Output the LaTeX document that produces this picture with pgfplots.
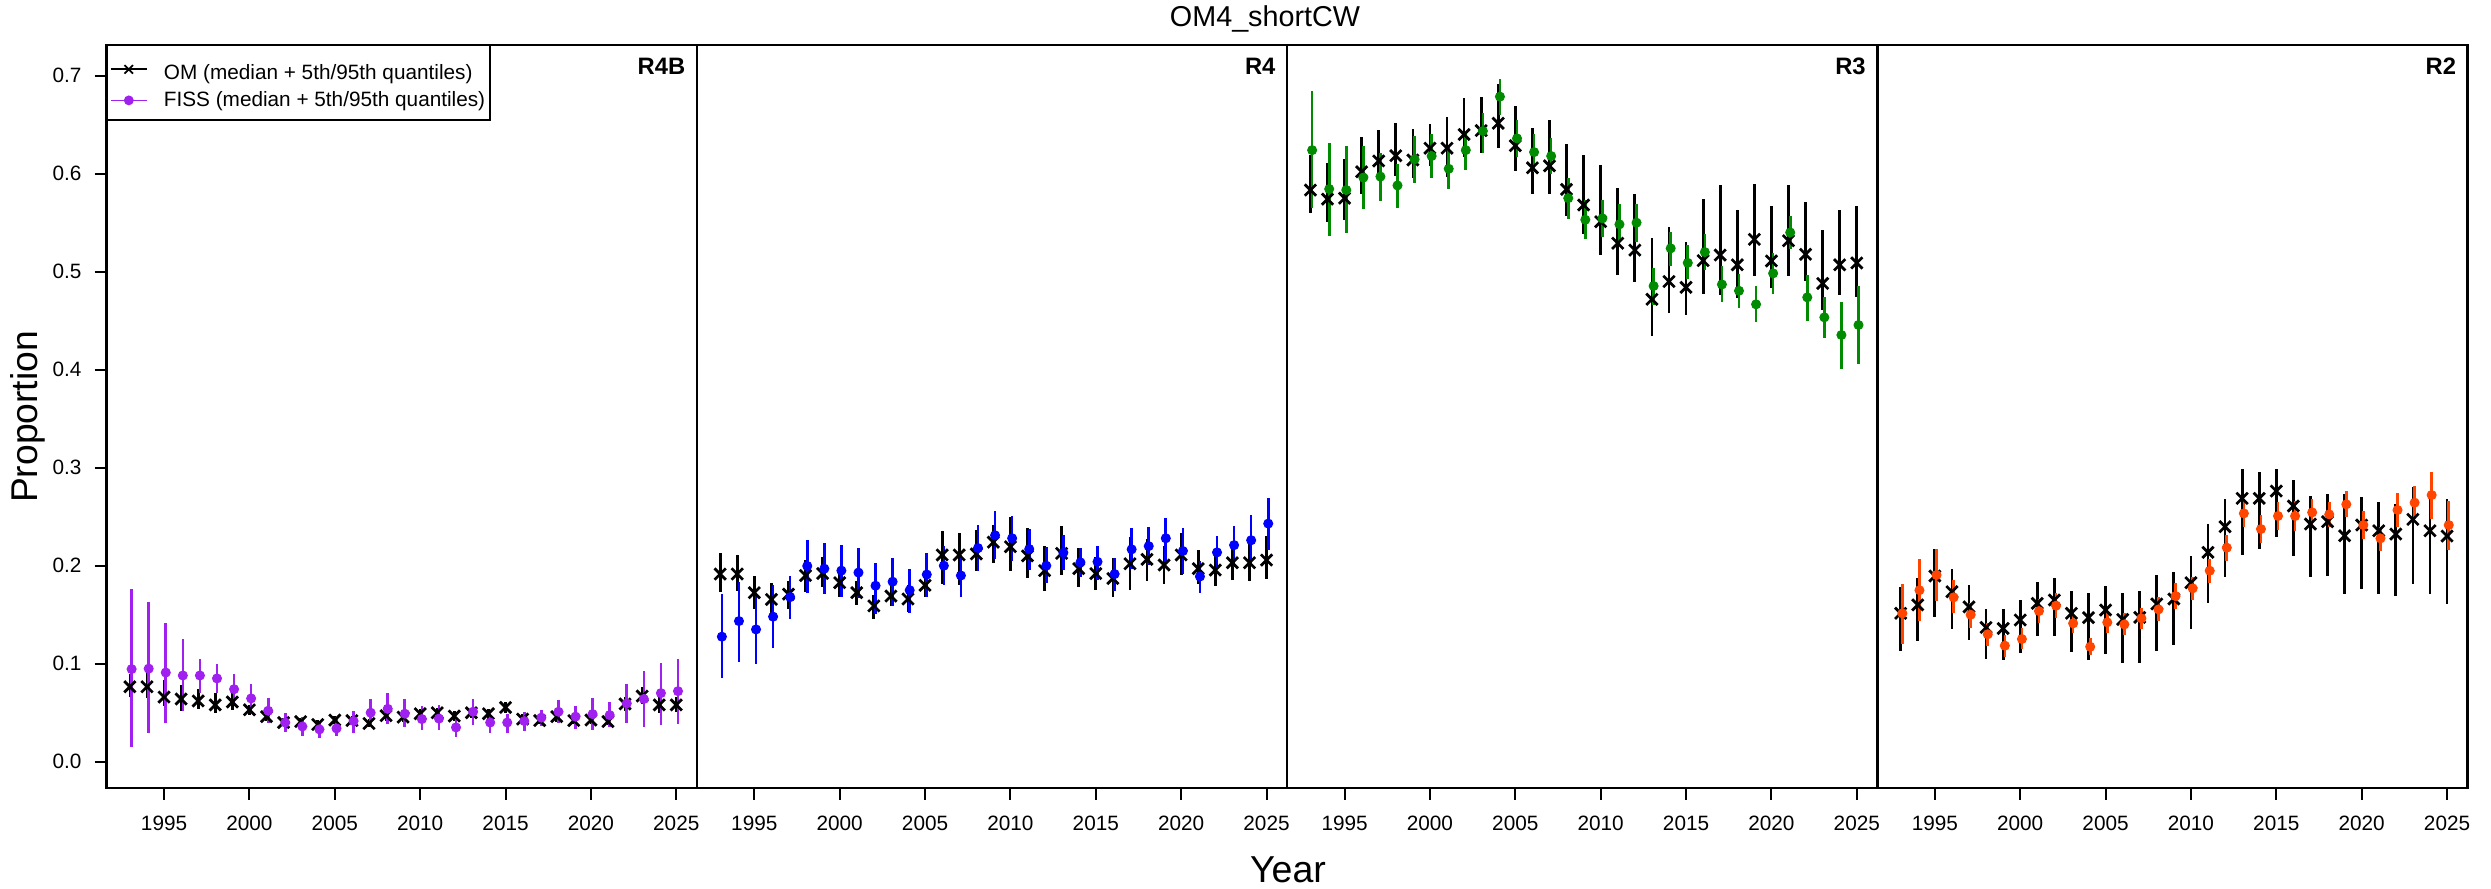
\documentclass[border=0pt]{standalone}
\usepackage{pgfplots}
\pgfplotsset{compat=1.18}
\usepackage{pgfplotstable}
\usepackage{fontspec}
\setmainfont{Liberation Sans}

\definecolor{fisspurple}{HTML}{A020F0}
\definecolor{fissblue}{HTML}{0000FF}
\definecolor{fissgreen}{HTML}{008B00}
\definecolor{fissorange}{HTML}{FF4500}

% yr, OM median/5th/95th, FISS median/5th/95th
\pgfplotstableread{
yr   om     omlo   omhi   fi     filo   fihi
1993 0.0765 0.066  0.090  0.0945 0.0146 0.176
1994 0.0765 0.065  0.092  0.095  0.029  0.163
1995 0.066  0.057  0.083  0.091  0.040  0.142
1996 0.064  0.052  0.078  0.088  0.052  0.1255
1997 0.062  0.054  0.074  0.088  0.070  0.105
1998 0.058  0.050  0.070  0.085  0.070  0.100
1999 0.061  0.053  0.070  0.074  0.0595 0.0895
2000 0.053  0.048  0.058  0.0646 0.050  0.079
2001 0.046  0.042  0.051  0.052  0.040  0.0646
2002 0.040  0.036  0.045  0.040  0.030  0.050
2003 0.041  0.037  0.045  0.036  0.026  0.046
2004 0.038  0.034  0.043  0.033  0.024  0.041
2005 0.0425 0.038  0.047  0.034  0.026  0.046
2006 0.042  0.038  0.047  0.0415 0.029  0.052
2007 0.039  0.035  0.044  0.050  0.039  0.0636
2008 0.047  0.042  0.052  0.054  0.039  0.070
2009 0.0455 0.041  0.050  0.049  0.035  0.0636
2010 0.049  0.044  0.054  0.0435 0.032  0.057
2011 0.050  0.045  0.055  0.044  0.032  0.058
2012 0.0466 0.042  0.052  0.035  0.0255 0.044
2013 0.050  0.045  0.055  0.051  0.037  0.0636
2014 0.049  0.044  0.054  0.040  0.029  0.049
2015 0.0554 0.050  0.061  0.040  0.029  0.049
2016 0.0435 0.039  0.049  0.0415 0.031  0.051
2017 0.042  0.038  0.047  0.045  0.036  0.053
2018 0.046  0.041  0.051  0.051  0.040  0.0626
2019 0.042  0.038  0.047  0.046  0.033  0.057
2020 0.0425 0.038  0.048  0.0486 0.032  0.065
2021 0.041  0.037  0.046  0.0476 0.035  0.0605
2022 0.059  0.052  0.066  0.0595 0.040  0.079
2023 0.067  0.059  0.076  0.064  0.035  0.0925
2024 0.058  0.050  0.067  0.070  0.037  0.101
2025 0.058  0.051  0.066  0.072  0.039  0.105
}\rfourb

\pgfplotstableread{
yr   om     omlo   omhi   fi     filo   fihi
1993 0.1915 0.1735 0.2126 0.1276 0.085  0.171
1994 0.1915 0.1745 0.211  0.1435 0.102  0.1837
1995 0.1725 0.156  0.189  0.135  0.0997 0.1718
1996 0.1656 0.151  0.182  0.148  0.1157 0.180
1997 0.171  0.156  0.184  0.168  0.146  0.190
1998 0.190  0.1735 0.206  0.1997 0.1725 0.226
1999 0.192  0.178  0.209  0.197  0.171  0.223
2000 0.1827 0.168  0.197  0.195  0.168  0.221
2001 0.1725 0.160  0.184  0.193  0.1667 0.2177
2002 0.159  0.146  0.170  0.1796 0.151  0.203
2003 0.169  0.159  0.182  0.1837 0.159  0.2075
2004 0.166  0.153  0.180  0.175  0.152  0.197
2005 0.180  0.1677 0.195  0.191  0.168  0.2126
2006 0.211  0.181  0.235  0.200  0.180  0.220
2007 0.211  0.180  0.233  0.190  0.168  0.211
2008 0.212  0.195  0.236  0.218  0.195  0.2415
2009 0.2240 0.2024 0.2415 0.231  0.2065 0.2558
2010 0.2194 0.1949 0.250  0.228  0.205  0.251
2011 0.210  0.1878 0.238  0.217  0.196  0.237
2012 0.195  0.1745 0.220  0.200  0.182  0.219
2013 0.2126 0.1905 0.2405 0.2133 0.196  0.231
2014 0.197  0.178  0.218  0.2034 0.188  0.218
2015 0.192  0.1755 0.209  0.204  0.185  0.220
2016 0.187  0.1677 0.2075 0.1915 0.1745 0.2075
2017 0.202  0.1755 0.2296 0.2167 0.197  0.238
2018 0.2065 0.184  0.227  0.220  0.201  0.240
2019 0.2007 0.181  0.220  0.228  0.204  0.249
2020 0.211  0.191  0.233  0.215  0.192  0.238
2021 0.197  0.181  0.216  0.189  0.1725 0.205
2022 0.1956 0.179  0.212  0.2136 0.1986 0.230
2023 0.203  0.185  0.2228 0.221  0.199  0.2405
2024 0.203  0.184  0.222  0.226  0.201  0.252
2025 0.2058 0.186  0.230  0.243  0.216  0.2694
}\rfour

\pgfplotstableread{
yr   om     omlo   omhi   fi     filo   fihi
1993 0.5833 0.560  0.619  0.624  0.5646 0.6847
1994 0.574  0.551  0.6105 0.5844 0.5364 0.6317
1995 0.575  0.5527 0.6147 0.5833 0.539  0.628
1996 0.602  0.579  0.6378 0.596  0.564  0.628
1997 0.613  0.5935 0.645  0.597  0.572  0.621
1998 0.6184 0.5976 0.652  0.588  0.565  0.610
1999 0.614  0.5952 0.646  0.6146 0.590  0.638
2000 0.626  0.608  0.651  0.618  0.596  0.640
2001 0.626  0.597  0.6575 0.605  0.584  0.628
2002 0.640  0.6173 0.677  0.624  0.604  0.643
2003 0.644  0.6207 0.6786 0.6435 0.6207 0.6623
2004 0.6514 0.626  0.6915 0.6786 0.660  0.697
2005 0.6286 0.603  0.669  0.636  0.6173 0.655
2006 0.606  0.579  0.647  0.622  0.602  0.640
2007 0.608  0.579  0.655  0.618  0.600  0.636
2008 0.584  0.5566 0.630  0.575  0.554  0.596
2009 0.568  0.5384 0.6194 0.553  0.533  0.573
2010 0.551  0.517  0.6088 0.5544 0.5357 0.573
2011 0.529  0.4966 0.5857 0.5483 0.530  0.569
2012 0.522  0.489  0.579  0.550  0.530  0.569
2013 0.4718 0.434  0.534  0.4854 0.466  0.5034
2014 0.490  0.4582 0.546  0.5238 0.5058 0.540
2015 0.484  0.456  0.5306 0.509  0.4925 0.527
2016 0.5113 0.477  0.5738 0.520  0.5017 0.538
2017 0.517  0.476  0.588  0.487  0.4687 0.5058
2018 0.507  0.4731 0.563  0.4805 0.4626 0.498
2019 0.533  0.4956 0.589  0.4667 0.449  0.485
2020 0.511  0.483  0.567  0.4983 0.477  0.519
2021 0.5316 0.4956 0.588  0.540  0.523  0.557
2022 0.5177 0.4908 0.5714 0.4738 0.450  0.4966
2023 0.488  0.461  0.5425 0.4534 0.432  0.4745
2024 0.507  0.476  0.563  0.4354 0.401  0.469
2025 0.5089 0.474  0.5667 0.4456 0.4058 0.4854
}\rthree

\pgfplotstableread{
yr   om     omlo   omhi   fi     filo   fihi
1993 0.1514 0.1133 0.1786 0.1514 0.1197 0.181
1994 0.160  0.1232 0.1878 0.175  0.1439 0.2065
1995 0.1895 0.148  0.2167 0.1905 0.1643 0.2167
1996 0.1735 0.135  0.1966 0.1677 0.1514 0.1854
1997 0.158  0.124  0.180  0.150  0.136  0.1623
1998 0.137  0.105  0.1554 0.130  0.1184 0.1418
1999 0.136  0.104  0.156  0.1184 0.107  0.1293
2000 0.1446 0.1112 0.165  0.1252 0.1146 0.136
2001 0.1616 0.1283 0.183  0.1537 0.1412 0.166
2002 0.165  0.1286 0.187  0.1592 0.1469 0.1718
2003 0.1514 0.1119 0.1741 0.1412 0.131  0.1524
2004 0.147  0.1037 0.1718 0.1173 0.1088 0.1266
2005 0.1548 0.1099 0.1796 0.1422 0.131  0.153
2006 0.1452 0.1003 0.1718 0.1401 0.129  0.1517
2007 0.1473 0.101  0.1745 0.1463 0.135  0.157
2008 0.161  0.1133 0.1905 0.1554 0.1439 0.1677
2009 0.1660 0.119  0.1939 0.169  0.1554 0.182
2010 0.1827 0.135  0.210  0.1769 0.165  0.1888
2011 0.2136 0.1616 0.2425 0.1949 0.1827 0.2065
2012 0.2398 0.1881 0.2677 0.2184 0.2048 0.2313
2013 0.2687 0.2109 0.2983 0.2534 0.2398 0.267
2014 0.2687 0.2167 0.2952 0.2374 0.2235 0.2517
2015 0.2762 0.2289 0.2986 0.2507 0.2364 0.2653
2016 0.2609 0.2102 0.2874 0.2507 0.2357 0.2664
2017 0.2425 0.1888 0.2711 0.2544 0.2408 0.2677
2018 0.2449 0.1895 0.2728 0.2524 0.2398 0.2653
2019 0.2306 0.1711 0.2728 0.2626 0.2493 0.2762
2020 0.2415 0.1759 0.2704 0.2415 0.2272 0.2558
2021 0.2357 0.1711 0.2646 0.2279 0.2153 0.2398
2022 0.2323 0.169  0.2626 0.2568 0.2398 0.2738
2023 0.2473 0.1813 0.2799 0.2643 0.2473 0.2813
2024 0.2357 0.1711 0.2721 0.2721 0.2473 0.2959
2025 0.2303 0.1605 0.2677 0.2415 0.216  0.2664
}\rtwo

\tikzset{
  panellab/.style={anchor=north east, inner sep=0pt, xshift=-4.5pt, yshift=-5pt,
    font=\fontsize{9.5}{11}\selectfont\bfseries},
}

\pgfplotsset{
  panel/.style={
    scale only axis, width=236.1pt, height=297.2pt,
    anchor=south west,
    xmin=1991.64, xmax=2026.21, ymin=-0.0268, ymax=0.7313,
    xtick={1995,2000,2005,2010,2015,2020,2025},
    ytick=\empty,
    tick align=outside, tick pos=left, major tick length=4.8pt,
    every tick/.style={black, line width=0.8pt},
    axis line style={line width=1pt},
    x tick label style={/pgf/number format/1000 sep={}, yshift=-3pt},
    y tick label style={xshift=-1.8pt},
    /pgf/number format/assume math mode=true,
    tick label style={font=\fontsize{8.3}{9.5}\selectfont},
  },
  om/.style={only marks, mark=x, mark size=3.2pt, black, line width=1.1pt,
    error bars/.cd, y dir=both, y explicit, error mark=none,
    error bar style={line width=1.1pt, black}},
  fiss/.style={only marks, mark=*, mark size=1.8pt, color=#1,
    error bars/.cd, y dir=both, y explicit, error mark=none,
    error bar style={line width=1.05pt, #1}},
}

\newcommand{\panel}[3]{%
  \addplot[om] table[x=yr, y=om,
    y error plus expr=\thisrow{omhi}-\thisrow{om},
    y error minus expr=\thisrow{om}-\thisrow{omlo}] {#1};
  \addplot[fiss=#2] table[x expr=\thisrow{yr}+0.1, y=fi,
    y error plus expr=\thisrow{fihi}-\thisrow{fi},
    y error minus expr=\thisrow{fi}-\thisrow{filo}] {#1};
  \node[panellab] at (rel axis cs:1,1) {#3};
}

\begin{document}
\begin{tikzpicture}
\useasboundingbox (0,0) rectangle (996.4pt,355.6pt);

\begin{axis}[panel, at={(42.68pt,40.4pt)},
  ytick={0,0.1,0.2,0.3,0.4,0.5,0.6,0.7},
  yticklabel style={/pgf/number format/.cd, fixed, fixed zerofill, precision=1},
  legend cell align=left,
  legend image code/.code={\draw[mark repeat=2, mark phase=2, #1]
    plot coordinates {(0pt,0pt) (7.2pt,0pt) (14.4pt,0pt)};},
  legend style={at={(0,1)}, anchor=north west, draw=black, line width=0.6pt,
    font=\fontsize{8.3}{9.5}\selectfont, inner xsep=1pt, inner ysep=3pt,
    nodes={inner sep=1pt}, row sep=1.2pt,
    /tikz/every odd column/.append style={column sep=5.5pt}},
]
\addlegendimage{black, mark=x, mark size=2.4pt, line width=0.7pt}
\addlegendentry{\rule{0pt}{9.4pt}OM (median + 5th/95th quantiles)\hspace{5.7pt}}
\addlegendimage{fisspurple, mark=*, mark size=1.6pt, line width=0.7pt}
\addlegendentry{FISS (median + 5th/95th quantiles)\hspace{5.7pt}}
\panel{\rfourb}{fisspurple}{R4B}
\end{axis}

\begin{axis}[panel, at={(278.78pt,40.4pt)}]
\panel{\rfour}{fissblue}{R4}
\end{axis}

\begin{axis}[panel, at={(514.88pt,40.4pt)}]
\panel{\rthree}{fissgreen}{R3}
\end{axis}

\begin{axis}[panel, at={(750.98pt,40.4pt)}]
\panel{\rtwo}{fissorange}{R2}
\end{axis}

\node[inner sep=0pt, font=\fontsize{11.5}{13}\selectfont] at (506pt,348pt) {OM4\_shortCW};
\node[inner sep=0pt, font=\fontsize{14.9}{17}\selectfont, rotate=90] at (11pt,188.8pt) {Proportion};
\node[inner sep=0pt, font=\fontsize{15}{17}\selectfont, anchor=base] at (515.2pt,2.4pt) {Year};
\end{tikzpicture}
\end{document}
